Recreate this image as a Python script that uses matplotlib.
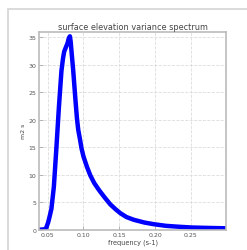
import matplotlib
matplotlib.use('Agg')
import matplotlib.pyplot as plt
from matplotlib.patches import Rectangle

# values (frequency in s-1, variance density in m2 s)
freq = [0.039, 0.045, 0.048, 0.0507, 0.053, 0.0553, 0.0587, 0.0623, 0.0657,
        0.0693, 0.0715, 0.0731, 0.0755, 0.0777, 0.0795, 0.0811, 0.0822, 0.0833,
        0.0857, 0.0889, 0.0909, 0.0927, 0.0955, 0.0973, 0.1001, 0.105, 0.1095,
        0.115, 0.1207, 0.1235, 0.13, 0.1375, 0.145, 0.1515, 0.16, 0.1702,
        0.185, 0.198, 0.215, 0.231, 0.25, 0.2636, 0.28, 0.299]
spec = [0.0, 0.05, 0.3, 1.3, 2.5, 3.8, 7.8, 15.0, 22.2,
        28.9, 31.2, 32.4, 33.2, 33.9, 34.8, 35.2, 34.2, 32.5,
        29.0, 23.5, 20.3, 18.2, 16.2, 14.8, 13.3, 11.4, 9.9,
        8.5, 7.4, 6.9, 5.8, 4.6, 3.7, 3.0, 2.3, 1.8,
        1.3, 1.0, 0.7, 0.55, 0.4, 0.35, 0.3, 0.25]
xticks = [0.05, 0.10, 0.15, 0.20, 0.25]
yticks = [0, 5, 10, 15, 20, 25, 30, 35]

fig = plt.figure(figsize=(2.47, 2.51), dpi=100)
fig.patches.append(Rectangle((8 / 247, -0.1), 1.0, 1 - 10 / 251 + 0.1,
                             transform=fig.transFigure, fill=False,
                             edgecolor='#d4d4d4', linewidth=1.2))
ax = fig.add_axes([0.158, 0.081, 0.757, 0.788])

ax.plot(freq, spec, color='#0000ff', linewidth=3.2,
        solid_joinstyle='round', solid_capstyle='round')

ax.set_xlim(0.038, 0.299)
ax.set_ylim(0, 36)
ax.set_xticks(xticks)
ax.set_xticklabels(['%.2f' % t for t in xticks])
ax.set_yticks(yticks)
ax.grid(True, linestyle='--', color='#dddddd', linewidth=0.6)
ax.tick_params(direction='in', length=3, width=0.6, colors='#aaaaaa',
               labelcolor='#555555', labelsize=4.5, pad=2)
for s in ax.spines.values():
    s.set_color('#bbbbbb')
    s.set_linewidth(1.2)

ax.set_title('surface elevation variance spectrum', fontsize=5.9,
             color='#444444', pad=2)
ax.set_xlabel('frequency (s-1)', fontsize=4.7, color='#444444', labelpad=1)
ax.set_ylabel('m2 s', fontsize=4.5, color='#444444', labelpad=2)

fig.savefig('out.png', dpi=100)
